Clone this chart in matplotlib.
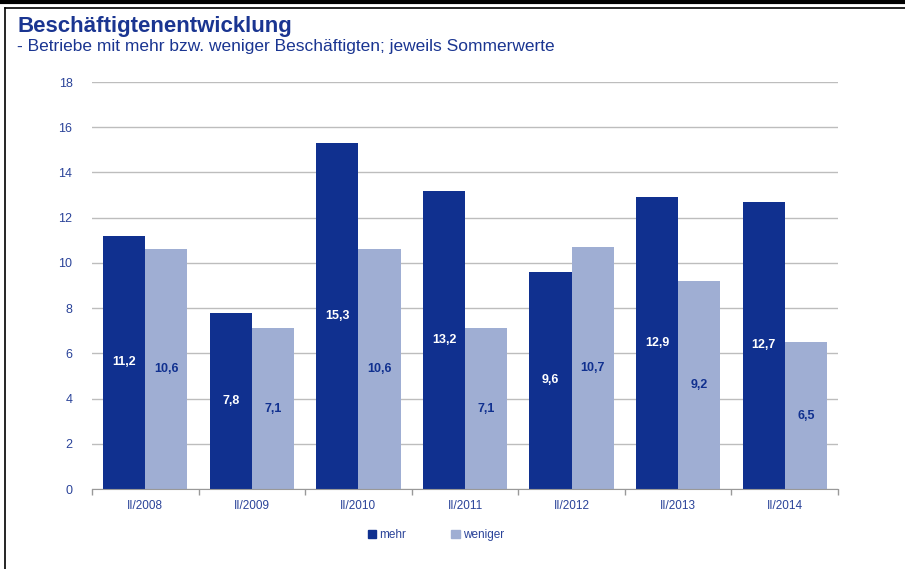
import matplotlib
matplotlib.use("Agg")
import matplotlib.pyplot as plt
import numpy as np
from matplotlib.lines import Line2D
from matplotlib.patches import Patch

plt.rcParams['font.family'] = ['Liberation Sans', 'DejaVu Sans']

categories = ["II/2008", "II/2009", "II/2010", "II/2011", "II/2012", "II/2013", "II/2014"]
mehr = [11.2, 7.8, 15.3, 13.2, 9.6, 12.9, 12.7]
weniger = [10.6, 7.1, 10.6, 7.1, 10.7, 9.2, 6.5]
yticks = [0, 2, 4, 6, 8, 10, 12, 14, 16, 18]

c_mehr = "#10308F"
c_wen = "#9FAED3"
c_text = "#2A4399"
c_title = "#1A3591"

W, H = 905, 569
fig = plt.figure(figsize=(W/100, H/100), dpi=100)

# frame lines
fig.add_artist(Line2D([0, 1], [1 - 2/H, 1 - 2/H], transform=fig.transFigure, color="black", lw=3))
fig.add_artist(Line2D([5/W, 1], [1 - 7.5/H, 1 - 7.5/H], transform=fig.transFigure, color="black", lw=1.2))
fig.add_artist(Line2D([5/W, 5/W], [0, 1 - 7.5/H], transform=fig.transFigure, color="black", lw=1.2))

fig.text(17/W, 1 - 32/H, "Beschäftigtenentwicklung", fontsize=16, fontweight="bold", color=c_title)
fig.text(17/W, 1 - 51/H, "- Betriebe mit mehr bzw. weniger Beschäftigten; jeweils Sommerwerte",
         fontsize=12.5, color=c_title)

left, right = 92, 838
top, bottom = 82, 489
ax = fig.add_axes([left/W, 1 - bottom/H, (right-left)/W, (bottom-top)/H])

x = np.arange(len(categories))
bw = 0.395
ax.bar(x - bw/2, mehr, bw, color=c_mehr, zorder=3, label="mehr")
ax.bar(x + bw/2, weniger, bw, color=c_wen, zorder=3, label="weniger")

for xi, v in zip(x, mehr):
    ax.text(xi - bw/2, v/2, f"{v:.1f}".replace(".", ","), ha="center", va="center",
            color="white", fontsize=9, fontweight="bold", zorder=4)
for xi, v in zip(x, weniger):
    ax.text(xi + bw/2, v/2, f"{v:.1f}".replace(".", ","), ha="center", va="center",
            color=c_mehr, fontsize=9, fontweight="bold", zorder=4)

ax.set_xlim(-0.5, len(categories) - 0.5)
ax.set_ylim(0, 18)
ax.set_yticks(yticks)
ax.set_yticklabels([str(t) for t in yticks], color=c_text, fontsize=9)
ax.tick_params(axis="y", length=0, pad=14)
ax.grid(axis="y", color="#BDBDBD", lw=1, zorder=0)

ax.set_xticks(x)
ax.set_xticklabels(categories, color=c_text, fontsize=8.5)
ax.tick_params(axis="x", length=0, pad=8)
ax.set_xticks(np.arange(-0.5, len(categories)), minor=True)
ax.tick_params(axis="x", which="minor", length=4, color="#999999", width=1)

for s in ["left", "right", "top"]:
    ax.spines[s].set_visible(False)
ax.spines["bottom"].set_color("#999999")
ax.spines["bottom"].set_zorder(5)

handles = [Patch(color=c_mehr, label="mehr"), Patch(color=c_wen, label="weniger")]
leg = fig.legend(handles=handles, loc="center", bbox_to_anchor=(436/W, 1 - 535/H), ncol=2,
                 frameon=False, fontsize=8.5, handlelength=0.7, handleheight=0.7,
                 handletextpad=0.3, columnspacing=3.8)
for t in leg.get_texts():
    t.set_color(c_text)

fig.savefig("out.png", dpi=100)
